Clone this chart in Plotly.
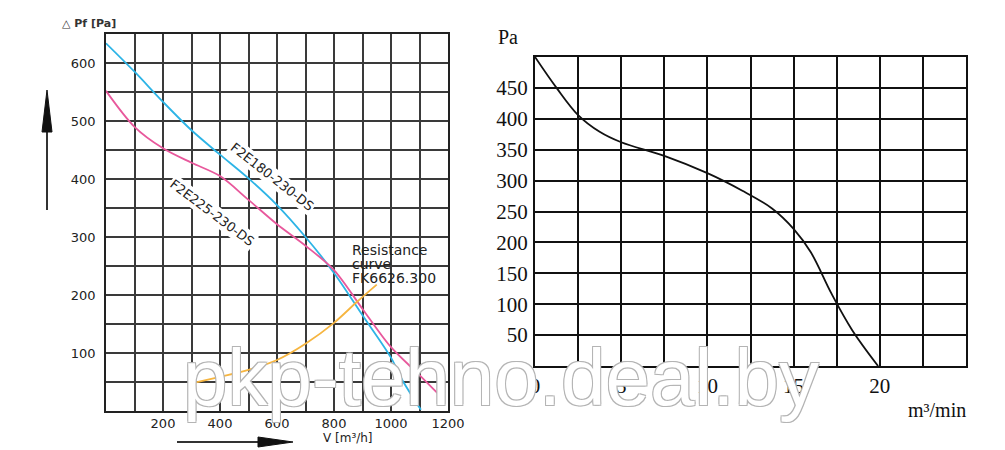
import plotly.graph_objects as go

# page offset of the plot div inside the browser page (default body margin)
OFF = 8
W, H = 1005 - OFF, 450 - OFF

# ---------------- Left chart data (flow m3/h, pressure Pa) ----------------
blue_name = "F2E180-230-DS"
blue_q = [0, 100, 200, 300, 400, 500, 600, 700, 800, 900, 1000, 1040, 1105]
blue_p = [634, 585, 533, 484, 442, 401, 355, 300, 238, 165, 92, 53, 2]

pink_name = "F2E225-230-DS"
pink_q = [0, 100, 200, 300, 400, 500, 600, 700, 800, 900, 1000, 1100, 1185]
pink_p = [552, 490, 453, 428, 405, 364, 322, 285, 243, 176, 110, 62, 20]

orange_lines = ["Resistance", "curve", "FK6626.300"]
orange_q = [304, 400, 500, 600, 700, 800, 880, 950]
orange_p = [48, 59, 71, 88, 116, 152, 188, 218]

left_x_labels = [200, 400, 600, 800, 1000, 1200]
left_y_labels = [100, 200, 300, 400, 500, 600]
left_x_grid = list(range(0, 1201, 100))
left_y_grid = list(range(0, 651, 50))

# ---------------- Right chart data (flow m3/min, pressure Pa) ----------------
right_flow = [0, 1.25, 2.5, 3.75, 5, 7.5, 10, 12, 13.75, 15, 16, 17.2, 18.4, 19.9]
right_pres = [500, 450, 406, 379, 362, 340, 312, 284, 255, 222, 184, 117, 58, 0]

right_x_labels = [0, 5, 10, 15, 20]
right_y_labels = [50, 100, 150, 200, 250, 300, 350, 400, 450]
right_x_grid = [i * 2.5 for i in range(11)]
right_y_grid = list(range(0, 501, 50))


def P(px, py):
    """page pixel -> paper coordinate"""
    return (px - OFF) / W, 1 - (py - OFF) / H


fig = go.Figure()

fig.add_trace(go.Scatter(x=blue_q, y=blue_p, mode="lines", name=blue_name,
                         line=dict(color="#2db4e6", width=1.8, shape="spline", smoothing=0.9),
                         xaxis="x", yaxis="y"))
fig.add_trace(go.Scatter(x=pink_q, y=pink_p, mode="lines", name=pink_name,
                         line=dict(color="#e8589c", width=1.8, shape="spline", smoothing=0.9),
                         xaxis="x", yaxis="y"))
fig.add_trace(go.Scatter(x=orange_q, y=orange_p, mode="lines", name="FK6626.300",
                         line=dict(color="#f6b540", width=1.8, shape="spline", smoothing=0.9),
                         xaxis="x", yaxis="y"))
fig.add_trace(go.Scatter(x=right_flow, y=right_pres, mode="lines", name="curve",
                         line=dict(color="#111111", width=1.8, shape="spline", smoothing=1.0),
                         xaxis="x2", yaxis="y2"))

left_font = dict(family="DejaVu Sans", size=13, color="#222222")
right_font = dict(family="Liberation Serif", size=21, color="#111111")

x0, _ = P(106, 0)
x1, _ = P(448, 0)
_, yb = P(0, 411)
_, yt = P(0, 34)
rx0, _ = P(535, 0)
rx1, _ = P(966, 0)
_, ryb = P(0, 366)
_, ryt = P(0, 57)

fig.update_layout(
    width=W, height=H,
    margin=dict(l=0, r=0, t=0, b=0),
    paper_bgcolor="white", plot_bgcolor="white",
    showlegend=False,
    xaxis=dict(domain=[x0, x1], range=[0, 1200], anchor="y", automargin=False,
               tickmode="array", tickvals=left_x_grid,
               ticktext=[str(v) if v in left_x_labels else "" for v in left_x_grid],
               showgrid=True, gridcolor="#3a3a3a", gridwidth=1.5,
               showline=True, mirror=True, linecolor="#222", linewidth=1.5,
               zeroline=False, ticks="", tickfont=left_font, ticklabelstandoff=0),
    yaxis=dict(domain=[yb, yt], range=[0, 650], anchor="x", automargin=False,
               tickmode="array", tickvals=left_y_grid,
               ticktext=[str(v) if v in left_y_labels else "" for v in left_y_grid],
               showgrid=True, gridcolor="#3a3a3a", gridwidth=1.5,
               showline=True, mirror=True, linecolor="#222", linewidth=1.5,
               zeroline=False, ticks="", tickfont=left_font, ticklabelstandoff=6),
    xaxis2=dict(domain=[rx0, rx1], range=[0, 25], anchor="y2", automargin=False,
                tickmode="array", tickvals=right_x_grid,
                ticktext=[("%g" % v) if v in right_x_labels else "" for v in right_x_grid],
                showgrid=True, gridcolor="#111", gridwidth=2,
                showline=True, mirror=True, linecolor="#111", linewidth=2,
                zeroline=False, ticks="", tickfont=right_font, ticklabelstandoff=0),
    yaxis2=dict(domain=[ryb, ryt], range=[0, 500], anchor="x2", automargin=False,
                tickmode="array", tickvals=right_y_grid,
                ticktext=[str(v) if v in right_y_labels else "" for v in right_y_grid],
                showgrid=True, gridcolor="#111", gridwidth=2,
                showline=True, mirror=True, linecolor="#111", linewidth=2,
                zeroline=False, ticks="", tickfont=right_font, ticklabelstandoff=1),
)

ann = []


def add_text(px, py, text, font, xanchor="center", yanchor="middle", angle=0, bg=None):
    x, y = P(px, py)
    d = dict(x=x, y=y, xref="paper", yref="paper", text=text, showarrow=False,
             font=font, xanchor=xanchor, yanchor=yanchor, textangle=angle)
    if bg:
        d["bgcolor"] = bg
    ann.append(d)


lab_font = dict(family="DejaVu Sans", size=13, color="#222222")
add_text(272, 176, blue_name, lab_font, angle=38, bg="white")
add_text(212, 212, pink_name, lab_font, angle=37, bg="white")
res_font = dict(family="DejaVu Sans", size=14, color="#222222")
add_text(350, 250, orange_lines[0], res_font, xanchor="left")
add_text(350, 264, orange_lines[1], res_font, xanchor="left")
add_text(350, 278, orange_lines[2], res_font, xanchor="left")

add_text(89, 24, "<b>△ Pf [Pa]</b>", dict(family="DejaVu Sans", size=11, color="#333333"))
add_text(348, 438, "V [m³/h]", dict(family="DejaVu Sans", size=12, color="#222222"))

add_text(508, 37, "Pa", dict(family="Liberation Serif", size=20, color="#111111"))
add_text(937, 410, "m³/min", dict(family="Liberation Serif", size=20, color="#111111"))

# watermark
wx, wy = P(501, 377)
ann.append(dict(x=wx, y=wy, xref="paper", yref="paper", text="pkp-tehno.deal.by",
                showarrow=False, xanchor="center", yanchor="middle",
                font=dict(family="Liberation Sans", size=80, color="white",
                          shadow="-1px -1px 0 #b4b4b4, 1px -1px 0 #b4b4b4, -1px 1px 0 #b4b4b4, 1px 1px 0 #b4b4b4")))

fig.update_layout(annotations=ann)

# decorative arrows
shapes = []
ax0, ay0 = P(47, 130)
ax1, ay1 = P(47, 210)
shapes.append(dict(type="line", xref="paper", yref="paper", x0=ax0, y0=ay0, x1=ax1, y1=ay1,
                   line=dict(color="#333", width=2)))
tx, ty = P(47, 90)
lx, ly = P(42, 132)
rx, ry = P(52, 132)
shapes.append(dict(type="path", xref="paper", yref="paper",
                   path=f"M {tx} {ty} L {lx} {ly} L {rx} {ry} Z",
                   fillcolor="#111", line=dict(color="#111", width=1)))

bx0, by0 = P(177, 442)
bx1, by1 = P(260, 442)
shapes.append(dict(type="line", xref="paper", yref="paper", x0=bx0, y0=by0, x1=bx1, y1=by1,
                   line=dict(color="#333", width=2)))
tx, ty = P(293, 442)
ux, uy = P(258, 437)
dx, dy = P(258, 447)
shapes.append(dict(type="path", xref="paper", yref="paper",
                   path=f"M {tx} {ty} L {ux} {uy} L {dx} {dy} Z",
                   fillcolor="#111", line=dict(color="#111", width=1)))
fig.update_layout(shapes=shapes)

fig.write_html("out.html")
